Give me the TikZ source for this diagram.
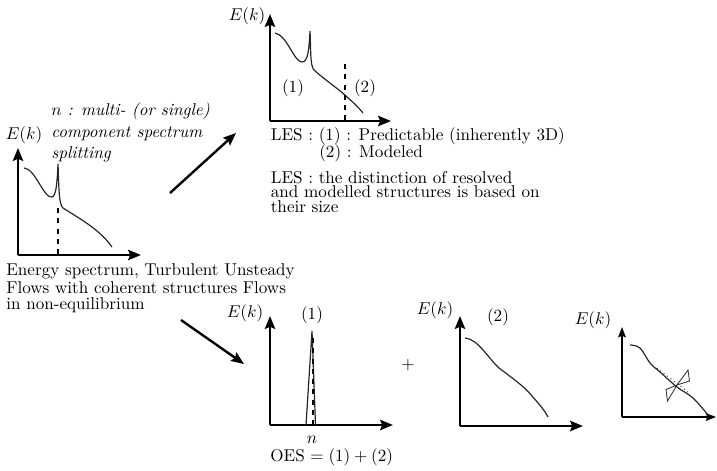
\documentclass[tikz,border=0pt]{standalone}
\usetikzlibrary{arrows.meta}
\begin{document}
\begin{tikzpicture}[x=0.585pt,y=-0.585pt,
  axis/.style={line width=1.7pt,-{Stealth[length=7.5pt,width=6pt,inset=1.2pt]}},
  thinaxis/.style={line width=1.1pt,-{Stealth[length=6pt,width=4.5pt,inset=1pt]}},
  curve/.style={line width=0.7pt,black!85},
  cut/.style={dashed,line width=0.6pt},
  bigarrow/.style={line width=1.4pt,-{Stealth[length=7.5pt,width=6pt,inset=1.2pt]}},
  txt/.style={anchor=base west,inner sep=0pt,font=\fontsize{10}{12}\selectfont},
  lab/.style={inner sep=0pt,font=\fontsize{10}{12}\selectfont}]
\useasboundingbox (0,0) rectangle (717,470);

% ---------- Plot A (left) ----------
\coordinate (A0) at (18,255);
\coordinate (Ay) at (18,148);
\coordinate (Ax) at (141,255);
\draw[axis] (A0) -- (Ay);
\draw[axis] (A0) -- (Ax);
\node[lab] (AE) at (24,135) {$E(k)$};
\draw[curve] (24,168) .. controls (35,168) and (44,199) .. (52,197)
  .. controls (56,196) and (57,185) .. (58,164)
  .. controls (59,192) and (59,204) .. (63,208)
  .. controls (82,220) and (100,230) .. (112,247);
\coordinate (Ad1) at (58,208);
\coordinate (Ad2) at (58,255);
\draw[cut] (Ad1) -- (Ad2);

\node[txt,font=\fontsize{10}{12}\selectfont\itshape] (it1) at (51,115) {$n$ : multi- (or single)};
\node[txt,font=\fontsize{10}{12}\selectfont\itshape] (it2) at (51,137) {component spectrum};
\node[txt,font=\fontsize{10}{12}\selectfont\itshape] (it3) at (51,158) {splitting};

\node[txt] (en1) at (6,275.5) {Energy spectrum, Turbulent Unsteady};
\node[txt] (en2) at (6,293) {Flows with coherent structures Flows};
\node[txt] (en3) at (6,309) {in non-equilibrium};

% ---------- arrows ----------
\coordinate (r1s) at (170,193);
\coordinate (r1e) at (236,133);
\draw[bigarrow] (r1s) -- (r1e);
\coordinate (r2s) at (181,320);
\coordinate (r2e) at (244,364);
\draw[bigarrow] (r2s) -- (r2e);

% ---------- Plot B (top) ----------
\coordinate (B0) at (270,121);
\coordinate (By) at (270,14);
\coordinate (Bx) at (391,121);
\draw[axis] (B0) -- (By);
\draw[axis] (B0) -- (Bx);
\node[lab] (BE) at (247,16) {$E(k)$};
\draw[curve] (275,33) .. controls (287,35) and (294,62) .. (302,62)
  .. controls (308,62) and (309,50) .. (310,31)
  .. controls (311,52) and (310,65) .. (314,70)
  .. controls (325,80) and (340,90) .. (347,97)
  .. controls (354,103) and (359,108) .. (363,113);
\coordinate (Bd1) at (345,64);
\coordinate (Bd2) at (345,121);
\draw[cut] (Bd1) -- (Bd2);
\node[lab] (B1) at (293,88) {(1)};
\node[lab] (B2) at (365,88) {(2)};

\node[txt] (les1) at (270.5,140) {LES : (1) : Predictable (inherently 3D)};
\node[txt] (les2) at (319,157) {(2) : Modeled};
\node[txt] (les3) at (270.5,183) {LES : the distinction of resolved};
\node[txt] (les4) at (270.5,197.5) {and modelled structures is based on};
\node[txt] (les5) at (270.5,212) {their size};

% ---------- Plot C (bottom middle) ----------
\coordinate (C0) at (270,425);
\coordinate (Cy) at (270,316);
\coordinate (Cx) at (393,425);
\draw[axis] (C0) -- (Cy);
\draw[axis] (C0) -- (Cx);
\node[lab] (CE) at (245,313) {$E(k)$};
\draw[curve] (306,425) -- (312,331) -- (315.5,425);
\coordinate (Cd1) at (313,338);
\coordinate (Cd2) at (313,425);
\draw[cut] (Cd1) -- (Cd2);
\node[lab] (C1) at (312,315) {(1)};
\node[lab] (Cn) at (312,440) {$n$};
\node[txt] (oes) at (270,461) {OES $=(1)+(2)$};

\node[lab] (plus) at (408,365) {$+$};

% ---------- Plot D ----------
\coordinate (D0) at (460,426);
\coordinate (Dy) at (460,316);
\coordinate (Dx) at (583,426);
\draw[axis] (D0) -- (Dy);
\draw[axis] (D0) -- (Dx);
\node[lab] (DE) at (435,310) {$E(k)$};
\node[lab] (D2) at (498,317) {(2)};
\draw[curve] (465,338) .. controls (478,339) and (488,358) .. (499,368)
  .. controls (512,378) and (524,386) .. (532,396)
  .. controls (540,405) and (545,411) .. (548,417);

% ---------- Plot E (far right) ----------
\coordinate (E0) at (622,417);
\coordinate (Ey) at (622,327);
\coordinate (Ex) at (716,417);
\draw[thinaxis] (E0) -- (Ey);
\draw[thinaxis] (E0) -- (Ex);
\node[lab] (EE) at (593,320) {$E(k)$};
\draw[curve] plot[smooth,tension=0.6] coordinates {(630,345) (640,348) (650,363) (660,372) (677,387) (693,398) (708,415)};
\coordinate (Edl1) at (657,368);
\coordinate (Edl2) at (688,392);
\draw[dotted,line width=0.5pt] (Edl1) -- (Edl2);
\coordinate (Ebc) at (677,385);
\draw[line width=0.5pt,black!80] (Ebc) -- (688,370) -- (689.5,381) -- cycle;
\draw[line width=0.5pt,black!80] (Ebc) -- (666,389.5) -- (667.5,401) -- cycle;
\end{tikzpicture}
\end{document}
